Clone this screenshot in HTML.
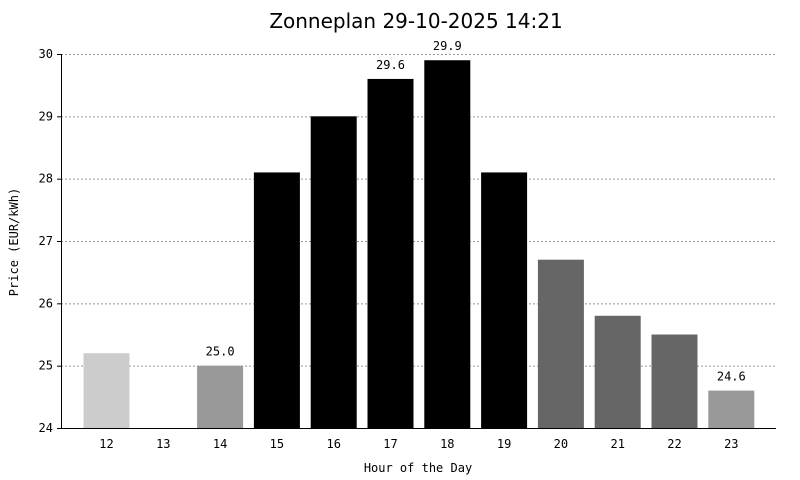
<!DOCTYPE html>
<html><head><meta charset="utf-8"><style>
body{margin:0;background:#fff}
svg{display:block}
text{font-family:"DejaVu Sans Mono","Liberation Mono",monospace;font-size:12px;fill:#000}
</style></head><body>
<svg width="800" height="480">
<text x="416" y="28" text-anchor="middle" style="font-family:'DejaVu Sans','Liberation Sans',sans-serif;font-size:20px">Zonneplan 29-10-2025 14:21</text>
<g id="grid"></g><g id="bars"></g><g id="axes"></g>
<text x="418" y="472" text-anchor="middle">Hour of the Day</text>
<text transform="translate(18,242) rotate(-90)" text-anchor="middle">Price (EUR/kWh)</text>
</svg>
<script>
const hours=["12","13","14","15","16","17","18","19","20","21","22","23"];
const prices=[25.2,24.9,25.0,28.1,29.0,29.6,29.9,28.1,26.7,25.8,25.5,24.6];
const colors=["#cccccc","#ffffff","#999999","#000000","#000000","#000000","#000000","#000000","#666666","#666666","#666666","#999999"];
const labeled=[false,false,true,false,false,true,true,false,false,false,false,true];
const yTicks=[24,25,26,27,28,29,30];
const NS="http://www.w3.org/2000/svg";
const x0=61,x1=776,yTop=54,yBot=428,yMin=24,yMax=30;
const y=v=>yBot-(v-yMin)/(yMax-yMin)*(yBot-yTop);
const step=56.8,firstC=106.5,bw=46;
const xc=i=>firstC+i*step;
function mk(t,a,p){const e=document.createElementNS(NS,t);for(const k in a)e.setAttribute(k,a[k]);p.appendChild(e);return e;}
const grid=document.getElementById('grid'),bars=document.getElementById('bars'),axes=document.getElementById('axes');
yTicks.forEach(v=>{
 const l=mk('line',{x1:x0,x2:x1,y1:y(v)+0.5,y2:y(v)+0.5,stroke:'#999','stroke-dasharray':'2,2'},grid);
 
 
 const tk=mk('line',{x1:x0-4,x2:x0,y1:y(v)+0.5,y2:y(v)+0.5,stroke:'#000'},axes);
 
 
 const t=mk('text',{x:x0-8,y:y(v)+4,'text-anchor':'end'},axes);t.textContent=v;
 
 
});
hours.forEach((h,i)=>{
 const r=mk('rect',{x:xc(i)-bw/2,y:y(prices[i]),width:bw,height:yBot-y(prices[i]),fill:colors[i]},bars);
 
 
 if(labeled[i]){const t=mk('text',{x:xc(i),y:y(prices[i])-10,'text-anchor':'middle'},bars);t.textContent=prices[i].toFixed(1);
 
 }
 const t=mk('text',{x:xc(i),y:yBot+20,'text-anchor':'middle'},axes);t.textContent=h;
 
 
});
const ya=mk('line',{x1:x0+0.5,x2:x0+0.5,y1:yTop,y2:yBot+1,stroke:'#000'},axes);


const xa=mk('line',{x1:x0,x2:x1,y1:yBot+0.5,y2:yBot+0.5,stroke:'#000'},axes);


</script>
</body></html>
